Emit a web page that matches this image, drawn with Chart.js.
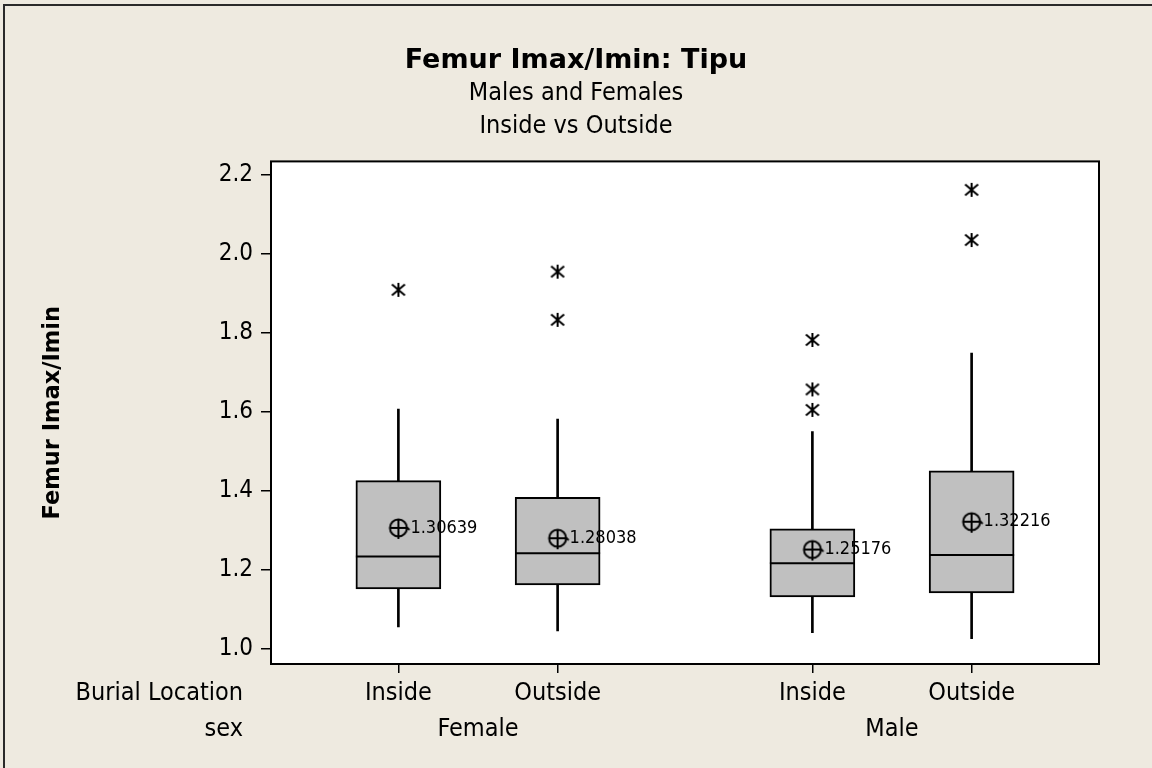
<!DOCTYPE html>
<html>
<head>
<meta charset="utf-8">
<title>Femur Imax/Imin: Tipu</title>
<script src="https://cdn.jsdelivr.net/npm/chart.js@4.4.0/dist/chart.umd.min.js"></script>
<style>
    html, body { margin: 0; padding: 0; background: #EEEAE0; }
    canvas { display: block; }
</style>
</head>
<body>
<canvas id="boxplot" width="1152" height="768"></canvas>
<script>
// Datos (Minitab boxplot)
const burialLabels = ['Inside', 'Outside', 'Inside', 'Outside'];
const sexLabels = ['Female', 'Female', 'Male', 'Male'];
const positions = [1, 2, 3.6, 4.6];

const lowWhisker = [1.056, 1.046, 1.041, 1.026];
const q1 = [1.152, 1.162, 1.132, 1.142];
const medians = [1.234, 1.242, 1.217, 1.238];
const q3 = [1.426, 1.384, 1.304, 1.451];
const highWhisker = [1.607, 1.582, 1.550, 1.749];
const means = [1.30639, 1.28038, 1.25176, 1.32216];
const outliers = [[1.909], [1.955, 1.833], [1.782, 1.657, 1.605], [2.162, 2.035]];

const yTicks = [1.0, 1.2, 1.4, 1.6, 1.8, 2.0, 2.2];

const FONT = "'DejaVu Sans Condensed', 'DejaVu Sans', sans-serif";
const FONT_BOLD = "'DejaVu Sans', sans-serif";
const BG = '#EEEAE0';

// Símbolo de outlier: asterisco (vertical + aspa)
function makeAsterisk() {
    const cv = document.createElement('canvas');
    cv.width = 20; cv.height = 20;
    const c = cv.getContext('2d');
    c.strokeStyle = '#000';
    c.lineWidth = 2;
    const m = 10;
    c.beginPath();
    c.moveTo(m, m - 7); c.lineTo(m, m + 7);
    c.stroke();
    [50, -50].forEach(a => {
        const rad = a * Math.PI / 180;
        const dx = 8.5 * Math.sin(rad), dy = 8.5 * Math.cos(rad);
        c.beginPath();
        c.moveTo(m - dx, m - dy);
        c.lineTo(m + dx, m + dy);
        c.stroke();
    });
    return cv;
}

// Símbolo de media: círculo con cruz
function makeMeanMarker() {
    const cv = document.createElement('canvas');
    cv.width = 28; cv.height = 28;
    const c = cv.getContext('2d');
    c.strokeStyle = '#000';
    c.lineWidth = 2;
    c.beginPath(); c.arc(14, 14, 8.5, 0, 2 * Math.PI); c.stroke();
    c.beginPath(); c.moveTo(14, 5.5); c.lineTo(14, 25); c.stroke();
    c.beginPath(); c.moveTo(5.5, 14); c.lineTo(23, 14); c.lineTo(25, 16); c.stroke();
    return cv;
}

const boxData = positions.map((p, i) => ({ x: p, y: [q1[i], q3[i]] }));
const lowerWhiskerData = positions.map((p, i) => ({ x: p, y: [lowWhisker[i], q1[i]] }));
const upperWhiskerData = positions.map((p, i) => ({ x: p, y: [q3[i], highWhisker[i]] }));
const meanData = positions.map((p, i) => ({ x: p, y: means[i] }));
const outlierData = positions.flatMap((p, i) => outliers[i].map(v => ({ x: p, y: v })));

const BOX_INDEX = 2;
const MEAN_INDEX = 0;

const framePlugin = {
    id: 'frame',
    beforeDraw(chart) {
        const c = chart.ctx;
        const a = chart.chartArea;
        c.save();
        c.fillStyle = BG;
        c.fillRect(0, 0, chart.width, chart.height);
        c.strokeStyle = '#2a2a2a';
        c.lineWidth = 2;
        c.strokeRect(4, 5, chart.width + 20, chart.height + 20);
        c.fillStyle = '#FFFFFF';
        c.fillRect(a.left, a.top, a.right - a.left, a.bottom - a.top);
        c.restore();
    },
    afterDatasetDraw(chart, args) {
        // Medianas sobre las cajas
        if (args.index !== BOX_INDEX) return;
        const c = chart.ctx;
        const y = chart.scales.y;
        const bars = chart.getDatasetMeta(BOX_INDEX).data;
        c.save();
        c.strokeStyle = '#000';
        c.lineWidth = 2;
        bars.forEach((bar, i) => {
            const py = y.getPixelForValue(medians[i]);
            c.beginPath();
            c.moveTo(bar.x - bar.width / 2, py);
            c.lineTo(bar.x + bar.width / 2, py);
            c.stroke();
        });
        c.restore();
    },
    afterDraw(chart) {
        const c = chart.ctx;
        const a = chart.chartArea;
        const x = chart.scales.x;
        c.save();
        c.strokeStyle = '#000';
        c.lineWidth = 2;
        c.strokeRect(a.left, a.top, a.right - a.left, a.bottom - a.top);

        // Etiquetas de medias
        c.fillStyle = '#000';
        c.font = `18px ${FONT}`;
        c.textAlign = 'left';
        c.textBaseline = 'middle';
        chart.getDatasetMeta(MEAN_INDEX).data.forEach((pt, i) => {
            c.fillText(means[i].toFixed(5), pt.x + 12, pt.y);
        });

        // Filas de etiquetas del eje X
        c.font = `25px ${FONT}`;
        c.textBaseline = 'alphabetic';
        c.textAlign = 'right';
        c.fillText('Burial Location', 243, a.bottom + 36);
        c.fillText('sex', 243, a.bottom + 72);
        c.textAlign = 'center';
        [...new Set(sexLabels)].forEach(sex => {
            const px = positions.filter((p, i) => sexLabels[i] === sex).map(p => x.getPixelForValue(p));
            const cx = px.reduce((s, v) => s + v, 0) / px.length;
            c.fillText(sex, cx, a.bottom + 72);
        });
        c.restore();
    },
};

const chart = new Chart(document.getElementById('boxplot'), {
    type: 'bar',
    data: {
        datasets: [
            {
                type: 'scatter',
                data: meanData,
                pointStyle: makeMeanMarker(),
                pointRadius: 9,
            },
            {
                type: 'scatter',
                data: outlierData,
                pointStyle: makeAsterisk(),
                pointRadius: 8,
            },
            {
                data: boxData,
                backgroundColor: '#C0C0C0',
                borderColor: '#000',
                borderWidth: 2,
                borderSkipped: false,
                barThickness: 85,
                grouped: false,
            },
            {
                data: lowerWhiskerData,
                backgroundColor: '#000',
                borderWidth: 0,
                barThickness: 2,
                grouped: false,
            },
            {
                data: upperWhiskerData,
                backgroundColor: '#000',
                borderWidth: 0,
                barThickness: 2,
                grouped: false,
            },
        ],
    },
    options: {
        responsive: false,
        animation: false,
        layout: { padding: { left: 53, right: 53, top: 0, bottom: 0 } },
        plugins: {
            legend: { display: false },
            tooltip: { enabled: false },
            title: {
                display: true,
                text: 'Femur Imax/Imin: Tipu',
                color: '#000',
                font: { family: FONT_BOLD, size: 27, weight: 'bold', lineHeight: 1.2 },
                padding: { top: 45, bottom: 0 },
            },
            subtitle: {
                display: true,
                text: ['Males and Females', 'Inside vs Outside'],
                color: '#000',
                font: { family: FONT, size: 25, lineHeight: '32.5px' },
                padding: { top: 0, bottom: 19 },
            },
        },
        scales: {
            x: {
                type: 'linear',
                min: 0.2,
                max: 5.4,
                offset: false,
                afterBuildTicks: s => { s.ticks = positions.map(v => ({ value: v })); },
                afterFit: s => { s.height = 104; },
                grid: { drawOnChartArea: false, tickLength: 9, color: '#000', lineWidth: 1.5, offset: false },
                border: { display: false },
                ticks: {
                    autoSkip: false,
                    maxRotation: 0,
                    padding: 5,
                    color: '#000',
                    font: { family: FONT, size: 25 },
                    callback: (v, i) => burialLabels[i],
                },
            },
            y: {
                type: 'linear',
                min: 0.962,
                max: 2.234,
                afterBuildTicks: s => { s.ticks = yTicks.map(v => ({ value: v })); },
                afterFit: s => { s.width = 218; },
                grid: { drawOnChartArea: false, tickLength: 10, color: '#000', lineWidth: 1.5 },
                border: { display: false },
                ticks: {
                    padding: 8,
                    color: '#000',
                    font: { family: FONT, size: 24 },
                    callback: v => v.toFixed(1),
                },
                title: {
                    display: true,
                    text: 'Femur Imax/Imin',
                    color: '#000',
                    font: { family: FONT_BOLD, size: 22.5, weight: 'bold' },
                    padding: { top: -13.5, bottom: 0 },
                },
            },
        },
    },
    plugins: [framePlugin],
});
</script>
</body>
</html>
